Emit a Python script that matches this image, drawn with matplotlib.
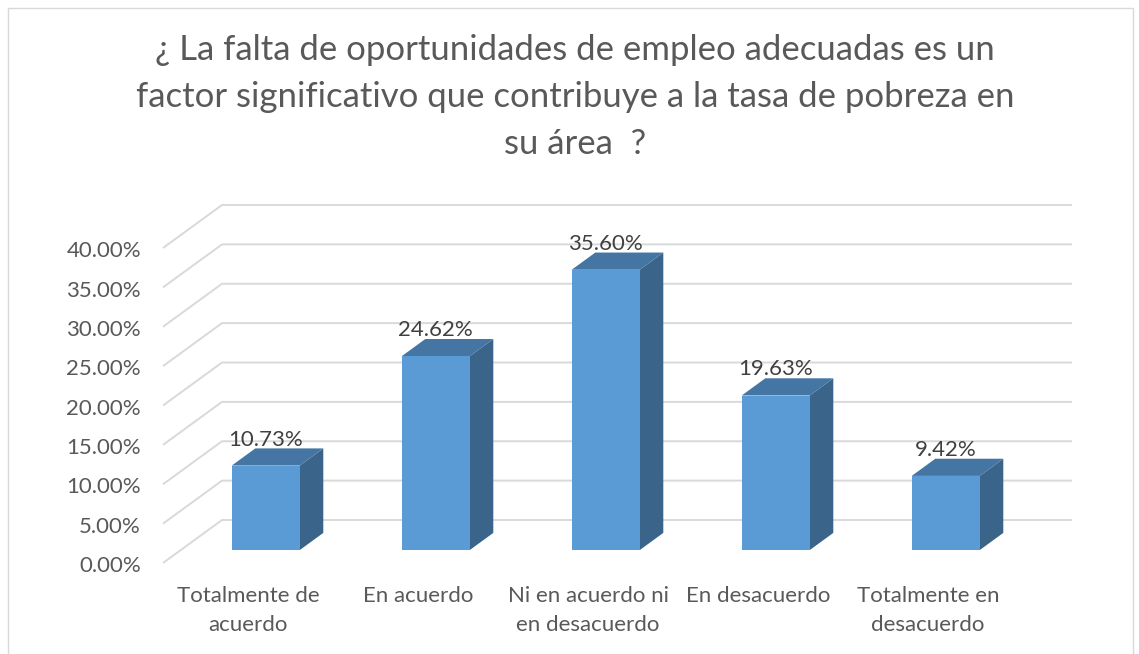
import matplotlib.pyplot as plt
from matplotlib.patches import Polygon, Rectangle

categories = [
    "Totalmente de\nacuerdo",
    "En acuerdo",
    "Ni en acuerdo ni\nen desacuerdo",
    "En desacuerdo",
    "Totalmente en\ndesacuerdo",
]
values = [10.73, 24.62, 35.60, 19.63, 9.42]
ticks = [0, 5, 10, 15, 20, 25, 30, 35, 40]
title = ("¿ La falta de oportunidades de empleo adecuadas es un\n"
         "factor significativo que contribuye a la tasa de pobreza en\n"
         "su área  ?")

W, H = 1139, 654
PX_X = 170.0   # pixels per category
PX_Y = 7.875   # pixels per percent
X0_PX, Y0_PX = 222, 520  # back-wall origin (x=-0.5, y=0) in pixels
# oblique depth offset of the floor (front edge relative to back wall)
DX = 59 / PX_X
DY = 43 / PX_Y
BAR_W = 0.4
D_FRONT, D_BACK = 0.70, 0.30

FACE = "#5B9BD5"
TOP = "#4575A3"
SIDE = "#3A6489"
GRID = "#D9D9D9"
TXT = "#595959"

plt.rcParams["font.family"] = ["Lato", "DejaVu Sans"]

fig = plt.figure(figsize=(W / 100, H / 100), dpi=100)
ax = fig.add_axes([0, 0, 1, 1])
ax.set_xlim(-0.5 - X0_PX / PX_X, -0.5 + (W - X0_PX) / PX_X)
ax.set_ylim((Y0_PX - H) / PX_Y, Y0_PX / PX_Y)
ax.axis("off")


def proj(x, y, d):
    return (x - d * DX, y - d * DY)


# gridlines: back wall + left wall diagonal
for t in ticks:
    xs, ys = zip(proj(-0.5, t, 1), proj(-0.5, t, 0), proj(len(values) - 0.5, t, 0))
    ax.plot(xs, ys, color=GRID, lw=1.4, zorder=1, solid_capstyle="butt")
    lx, ly = proj(-0.5, t, 1)
    ax.text(lx - 22 / PX_X, ly - 0.4, f"{t:.2f}%", ha="right", va="center",
            fontsize=16, color=TXT)

for i, v in enumerate(values):
    l, r = i - BAR_W / 2, i + BAR_W / 2
    front = [proj(l, 0, D_FRONT), proj(r, 0, D_FRONT), proj(r, v, D_FRONT), proj(l, v, D_FRONT)]
    top = [proj(l, v, D_FRONT), proj(r, v, D_FRONT), proj(r, v, D_BACK), proj(l, v, D_BACK)]
    side = [proj(r, 0, D_FRONT), proj(r, 0, D_BACK), proj(r, v, D_BACK), proj(r, v, D_FRONT)]
    ax.add_patch(Polygon(side, closed=True, fc=SIDE, ec="none", zorder=2))
    ax.add_patch(Polygon(top, closed=True, fc=TOP, ec="none", zorder=2))
    ax.add_patch(Polygon(front, closed=True, fc=FACE, ec="none", zorder=3))
    tx = proj(i, v, D_FRONT)[0]
    ty = proj(i, v, D_BACK)[1]
    ax.text(tx, ty - 0.15, f"{v:.2f}%", ha="center", va="bottom",
            fontsize=16, color="#404040", zorder=4)
    cx, cy = proj(i, 0, 1)
    ax.text(cx, cy - 2.9, categories[i], ha="center", va="top",
            fontsize=16, color=TXT, linespacing=1.6)

fig.text(575 / W, 1 - 34 / H, title, ha="center", va="top", fontsize=25,
         color=TXT, linespacing=1.58)

fig.add_artist(Rectangle((8 / W, -0.01), (1133 - 8) / W, 1 - 8 / H + 0.01,
                         transform=fig.transFigure, fill=False, ec="#D9D9D9", lw=1))

fig.savefig("out.png", dpi=100)
